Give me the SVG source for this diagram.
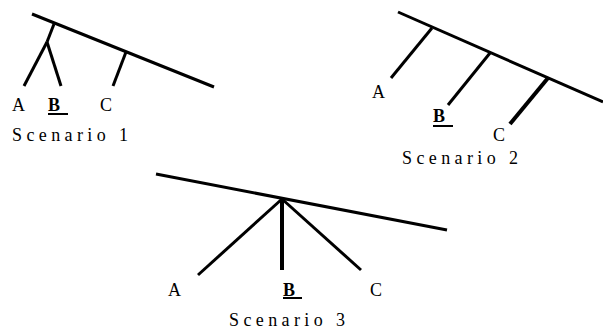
<svg xmlns="http://www.w3.org/2000/svg" width="603" height="330" viewBox="0 0 603 330">
<style>
.ln{stroke:#000;stroke-width:3;fill:none;stroke-linecap:butt}
.thk{stroke-width:4}
.lb{font-family:"Liberation Serif","Times New Roman",serif;font-size:18px;fill:#000}
.b{font-weight:bold}
.cap{font-family:"Liberation Serif","Times New Roman",serif;font-size:18px;fill:#000;letter-spacing:4.4px}
.ul{stroke:#000;stroke-width:2}
</style>
<rect width="603" height="330" fill="#fff"/>
<g id="connectors">
<line class="ln" x1="32" y1="14" x2="214" y2="87"/>
<line class="ln" x1="54" y1="24" x2="47" y2="42"/>
<line class="ln" x1="47" y1="42" x2="24" y2="86"/>
<line class="ln" x1="47" y1="42" x2="61" y2="86"/>
<line class="ln" x1="126" y1="52" x2="113" y2="86"/>
<line class="ln" x1="398" y1="12" x2="603" y2="102"/>
<line class="ln" x1="432" y1="28" x2="391" y2="78"/>
<line class="ln" x1="490" y1="53" x2="448" y2="105"/>
<line class="ln thk" x1="548" y1="78" x2="510" y2="124"/>
<line class="ln" x1="156" y1="174" x2="447" y2="230"/>
<line class="ln" x1="282" y1="199" x2="198" y2="275"/>
<line class="ln thk" x1="282" y1="199" x2="282" y2="270"/>
<line class="ln" x1="282" y1="199" x2="361" y2="270"/>
</g>
<g id="scenario1">
<text class="lb" x="12" y="111">A</text>
<text class="lb b" x="48" y="111">B</text>
<line class="ul" x1="48" y1="114" x2="68" y2="114"/>
<text class="lb" x="100" y="111">C</text>
<text class="cap" x="12" y="141">Scenario 1</text>
</g>
<g id="scenario2">
<text class="lb" x="372" y="98">A</text>
<text class="lb b" x="433" y="122">B</text>
<line class="ul" x1="433" y1="126" x2="453" y2="126"/>
<text class="lb" x="493" y="141">C</text>
<text class="cap" x="402" y="164">Scenario 2</text>
</g>
<g id="scenario3">
<text class="lb" x="168" y="296">A</text>
<text class="lb b" x="283" y="296">B</text>
<line class="ul" x1="283" y1="298" x2="302" y2="298"/>
<text class="lb" x="370" y="296">C</text>
<text class="cap" x="229" y="326">Scenario 3</text>
</g>
</svg>
